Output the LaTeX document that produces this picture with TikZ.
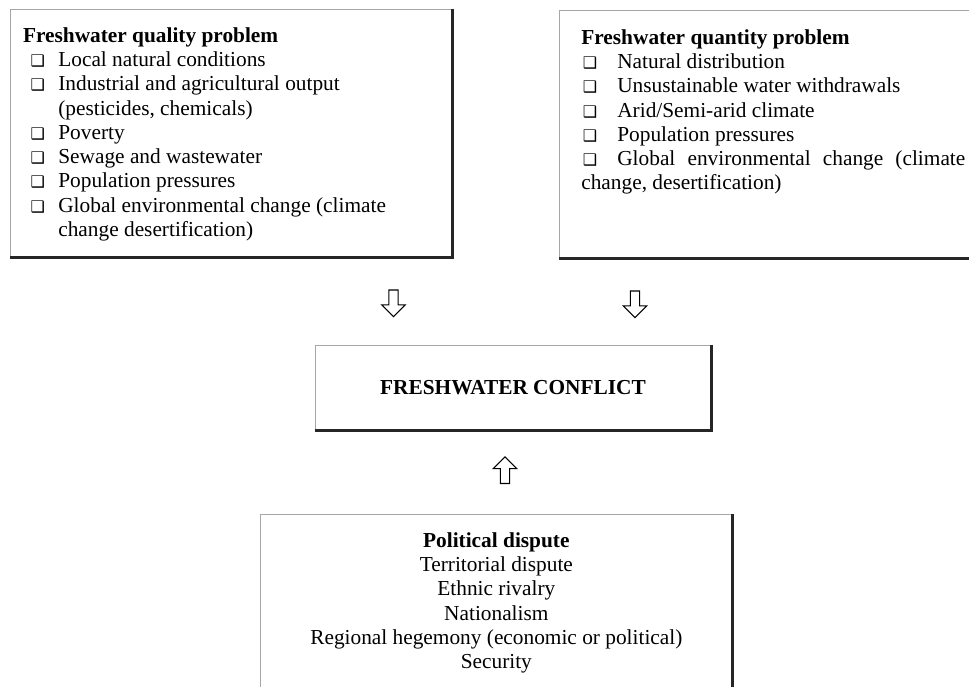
\documentclass[tikz,border=0pt]{standalone}
\usepackage{fontspec}
\setmainfont{Liberation Serif}
\newfontfamily\dingfont{DejaVu Sans}
\usetikzlibrary{shapes.arrows}

% list bullets and word spaces
\newcommand{\boxglyph}{{\dingfont\fontsize{12pt}{12pt}\selectfont ❑}}
\newcommand{\qitem}[1]{\makebox[26.5pt][l]{\hspace{5.8pt}\boxglyph}#1}
\newcommand{\qcont}[1]{\hspace*{26.5pt}#1}
\newcommand{\nitem}[1]{\makebox[27pt][l]{\hspace{1.2pt}\boxglyph}#1}
\newcommand{\natspace}{\spaceskip=.25em\xspaceskip=.25em\relax}
\newcommand{\fillline}[1]{\makebox[288pt][s]{\spaceskip=0pt\xspaceskip=0pt\relax#1}}

\tikzset{
  listbox/.style={draw=gray!70, line width=0.5pt, anchor=north west, inner ysep=0pt,
    font=\fontsize{16pt}{18.2pt}\selectfont},
  heavyedge/.style={line width=2.2pt, black!85},
  hollowarrow/.style={draw, fill=white, line width=0.8pt, shape=single arrow,
    single arrow head extend=5.4pt, single arrow head indent=0pt,
    inner xsep=0pt, inner ysep=3.1pt, minimum height=20pt, minimum width=17pt}
}

\begin{document}
\begin{tikzpicture}[x=0.75pt, y=-0.75pt]
    \useasboundingbox (0,0) rectangle (969,686);
    \clip (0,0) rectangle (969,686);

    % Left: quality problem
    \node[listbox, align=left, text width=312.5pt, inner xsep=9.5pt,
          text height=24.75pt, text depth=161.25pt] (qual) at (10,9)
        {\natspace\textbf{Freshwater quality problem}\\
         \qitem{Local natural conditions}\\
         \qitem{Industrial and agricultural output}\\
         \qcont{(pesticides, chemicals)}\\
         \qitem{Poverty}\\
         \qitem{Sewage and wastewater}\\
         \qitem{Population pressures}\\
         \qitem{Global environmental change (climate}\\
         \qcont{change desertification)}};

    % Right: quantity problem
    \node[listbox, align=left, text width=288pt, inner xsep=16.5pt,
          text height=25.5pt, text depth=160.5pt] (quant) at (559,10)
        {\natspace\textbf{Freshwater quantity problem}\\
         \nitem{Natural distribution}\\
         \nitem{Unsustainable water withdrawals}\\
         \nitem{Arid/Semi-arid climate}\\
         \nitem{Population pressures}\\
         \fillline{\nitem{Global environmental change (climate}}\\
         change, desertification)};

    % Centre: the conflict
    \node[draw=gray!70, line width=0.5pt, minimum width=297pt, minimum height=63.75pt,
          font=\bfseries\fontsize{16pt}{18.2pt}\selectfont] (conflict) at (513,387.5)
        {FRESHWATER CONFLICT};

    % Bottom: political dispute
    \node[listbox, align=center, text width=354pt, inner xsep=0pt,
          text height=24.75pt, text depth=114.75pt] (polit) at (260,514)
        {\natspace\textbf{Political dispute}\\
         Territorial dispute\\
         Ethnic rivalry\\
         Nationalism\\
         Regional hegemony (economic or political)\\
         Security};

    % Heavy right and bottom sides
    \foreach \b in {qual,quant,conflict,polit}
        \draw[heavyedge] (\b.north east) -- (\b.south east) -- (\b.south west);

    % Hollow arrows
    \node[hollowarrow, rotate=-90] (qualarrow) at (393.5,301) {};
    \node[hollowarrow, rotate=-90] (quantarrow) at (635,302) {};
    \node[hollowarrow, rotate=90] (politarrow) at (505,472.5) {};
\end{tikzpicture}
\end{document}
